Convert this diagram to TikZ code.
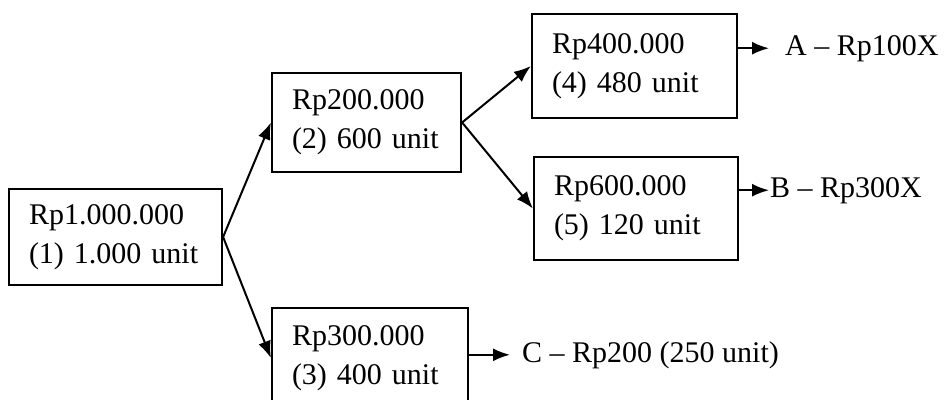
\documentclass[tikz,border=0pt]{standalone}
\usepackage{fontspec}
\setmainfont{Liberation Serif}
\usetikzlibrary{arrows.meta}

\begin{document}
\begin{tikzpicture}[
  x=1pt, y=-1pt,
  font=\fontsize{30pt}{39pt}\selectfont,
  box/.style={draw, line width=2.2pt, align=left, inner xsep=20pt, inner ysep=0pt},
  arr/.style={line width=2pt, -{Latex[length=17pt,width=13pt]}},
  lbl/.style={anchor=base west, inner sep=0pt}
]
\path[use as bounding box] (0,0) rectangle (950,399);
\clip (0,0) rectangle (950,399);

% price / quantity boxes
\node[box, minimum width=213pt, minimum height=96pt, text width=173pt]  (b1) at (115.5,237)   {Rp1.000.000\\(1) 1.000 unit};
\node[box, minimum width=189pt, minimum height=99pt, text width=149pt]  (b2) at (366.5,122.5) {Rp200.000\\(2) 600 unit};
\node[box, minimum width=196pt, minimum height=100pt, text width=156pt] (b3) at (370,358)     {Rp300.000\\(3) 400 unit};
\node[box, minimum width=205pt, minimum height=104pt, text width=165pt] (b4) at (634.5,66)    {Rp400.000\\(4) 480 unit};
\node[box, minimum width=204pt, minimum height=103pt, text width=164pt] (b5) at (636,208.5)   {Rp600.000\\(5) 120 unit};

% end results
\node[lbl] (la) at (785,55)  {A – Rp100X};
\node[lbl] (lb) at (770,197) {B – Rp300X};
\node[lbl] (lc) at (522,362) {C – Rp200 (250 unit)};

% branches
\draw[arr] (b1.east) -- (b2.west);
\draw[arr] (b1.east) -- (b3.west);
\draw[arr] (b2.east) -- (b4.west);
\draw[arr] (b2.east) -- (b5.west);

% result arrows
\draw[arr] (b4.east |- la.west) -- ([xshift=-16pt]la.west);
\draw[arr] (b5.east |- lb.west) -- ([xshift=-1pt]lb.west);
\draw[arr] (b3.east |- lc.west) -- ([xshift=-12pt]lc.west);
\end{tikzpicture}
\end{document}
